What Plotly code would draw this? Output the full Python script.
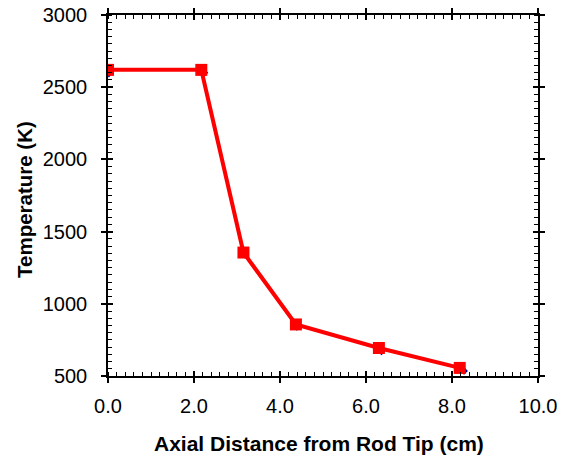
import plotly.graph_objects as go

# Data
distance_cm = [0.0, 2.17, 3.15, 4.37, 6.30, 8.18]
temperature_k = [2620, 2620, 1355, 857, 694, 556]

# faint underlying (dark blue) points visible behind red markers
distance_cm_b = [0.02, 2.24, 3.18, 4.39, 6.36, 8.28]
temperature_k_b = [2595, 2600, 1340, 840, 670, 535]

x_ticks = [0, 2, 4, 6, 8, 10]
x_ticklabels = ["0.0", "2.0", "4.0", "6.0", "8.0", "10.0"]
y_ticks = [500, 1000, 1500, 2000, 2500, 3000]

font_family = "Liberation Sans, Arial, sans-serif"

fig = go.Figure()
fig.add_trace(go.Scatter(
    x=distance_cm_b, y=temperature_k_b, mode="markers",
    marker=dict(symbol="diamond", size=6, color="#00008B"),
    showlegend=False, hoverinfo="skip",
))
fig.add_trace(go.Scatter(
    x=distance_cm, y=temperature_k, mode="lines+markers",
    line=dict(color="#FF0000", width=4),
    marker=dict(symbol="square", size=12, color="#FF0000"),
    showlegend=False,
))

axis_common = dict(
    showline=True, linecolor="black", linewidth=1.5, mirror="allticks",
    showgrid=False, zeroline=False, automargin=False,
    ticks="outside", ticklen=5, tickwidth=1.5, tickcolor="black",
    tickfont=dict(family=font_family, size=20, color="black"),
)

fig.update_layout(
    width=561, height=456,
    margin=dict(l=108, r=23, t=15, b=80),
    plot_bgcolor="white", paper_bgcolor="white",
    xaxis=dict(
        range=[0, 10], tickvals=x_ticks, ticktext=x_ticklabels,
        ticklabelstandoff=6,
        minor=dict(dtick=0.2, ticks="inside", ticklen=4, tickwidth=1, tickcolor="black"),
        **axis_common,
    ),
    yaxis=dict(
        range=[500, 3000], tickvals=y_ticks,
        ticklabelstandoff=10,
        minor=dict(dtick=50, ticks="inside", ticklen=4, tickwidth=1, tickcolor="black"),
        **axis_common,
    ),
    # overlay axes to draw the inward half of the major ticks
    xaxis2=dict(
        overlaying="x", matches="x", range=[0, 10], tickvals=x_ticks,
        ticks="inside", ticklen=5, tickwidth=1.5, tickcolor="black",
        showticklabels=False, showline=False, showgrid=False, zeroline=False,
        mirror="ticks", automargin=False,
    ),
    yaxis2=dict(
        overlaying="y", matches="y", range=[500, 3000], tickvals=y_ticks,
        ticks="inside", ticklen=5, tickwidth=1.5, tickcolor="black",
        showticklabels=False, showline=False, showgrid=False, zeroline=False,
        mirror="ticks", automargin=False,
    ),
    annotations=[
        dict(text="<b>Axial Distance from Rod Tip (cm)</b>", xref="paper", yref="paper",
             x=(318.5 - 108) / 430, y=-(443 - 376) / 361, xanchor="center", yanchor="middle",
             showarrow=False, font=dict(family=font_family, size=21, color="black")),
        dict(text="<b>Temperature (K)</b>", xref="paper", yref="paper",
             x=-(108 - 24) / 430, y=(376 - 200) / 361, xanchor="center", yanchor="middle",
             textangle=-90, showarrow=False,
             font=dict(family=font_family, size=20.5, color="black")),
    ],
)

# invisible trace to activate the overlay axes
fig.add_trace(go.Scatter(x=[None], y=[None], xaxis="x2", yaxis="y2",
                         showlegend=False, hoverinfo="skip"))

fig.write_html("out.html")
